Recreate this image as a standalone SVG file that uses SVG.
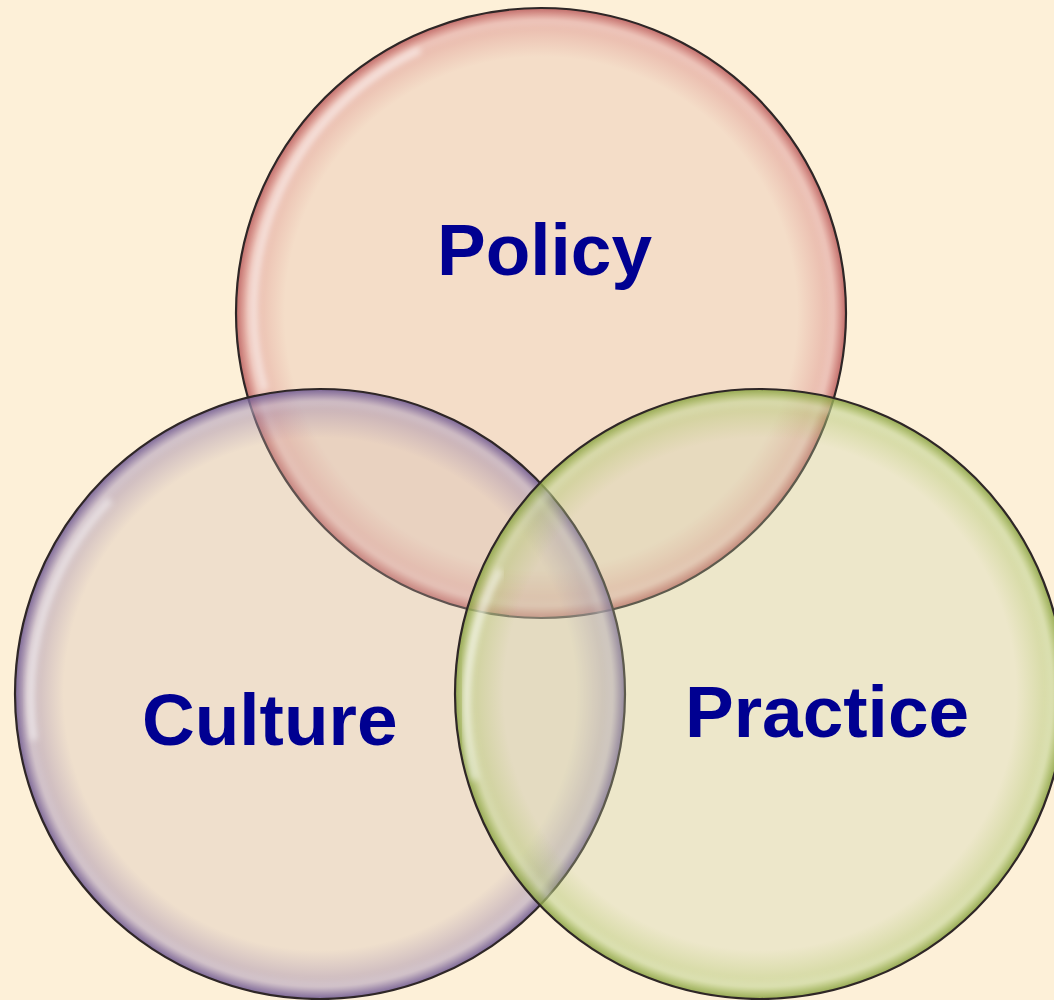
<svg xmlns="http://www.w3.org/2000/svg" width="1054" height="1000" viewBox="0 0 1054 1000">
<defs>
<style>
.lbl{font-family:"Liberation Sans",Arial,sans-serif;font-weight:bold;font-size:73px;fill:#000091}
.outline{fill:none;stroke:#2e2626;stroke-width:2.2}
.hl{fill:none;stroke:#ffffff;stroke-width:7;filter:url(#blur)}
</style>
<filter id="blur" x="-10%" y="-10%" width="120%" height="120%"><feGaussianBlur stdDeviation="3"/></filter>
<radialGradient id="rimP"><stop offset="0" stop-color="#d77b7b" stop-opacity="0"/><stop offset="0.84" stop-color="#d77b7b" stop-opacity="0"/><stop offset="0.96" stop-color="#d77b7b" stop-opacity="0.4"/><stop offset="1" stop-color="#b85a5a" stop-opacity="0.85"/></radialGradient>
<radialGradient id="rimC"><stop offset="0" stop-color="#8a74a8" stop-opacity="0"/><stop offset="0.84" stop-color="#8a74a8" stop-opacity="0"/><stop offset="0.96" stop-color="#8a74a8" stop-opacity="0.4"/><stop offset="1" stop-color="#6a5490" stop-opacity="0.85"/></radialGradient>
<radialGradient id="rimR"><stop offset="0" stop-color="#a9c25c" stop-opacity="0"/><stop offset="0.84" stop-color="#a9c25c" stop-opacity="0"/><stop offset="0.96" stop-color="#a9c25c" stop-opacity="0.4"/><stop offset="1" stop-color="#88a040" stop-opacity="0.85"/></radialGradient>
</defs>
<rect width="1054" height="1000" fill="#fdf0d8"/>
<g id="policy">
<circle cx="541" cy="313" r="305" fill="#e2b4a3" fill-opacity="0.3"/>
<circle cx="541" cy="313" r="305" fill="url(#rimP)"/>
<circle cx="541" cy="313" r="292" class="hl" stroke-opacity="0.22"/>
<path d="M 265 390 A 288 288 0 0 1 420 50" class="hl" stroke-opacity="0.55"/>
<circle cx="541" cy="313" r="305" class="outline"/>
</g>
<g id="culture">
<circle cx="320" cy="694" r="305" fill="#d2bbb0" fill-opacity="0.3"/>
<circle cx="320" cy="694" r="305" fill="url(#rimC)"/>
<circle cx="320" cy="694" r="292" class="hl" stroke-opacity="0.22"/>
<path d="M 34 740 A 288 288 0 0 1 110 500" class="hl" stroke-opacity="0.55"/>
<circle cx="320" cy="694" r="305" class="outline"/>
</g>
<g id="practice">
<circle cx="760" cy="694" r="305" fill="#cbd5a9" fill-opacity="0.3"/>
<circle cx="760" cy="694" r="305" fill="url(#rimR)"/>
<circle cx="760" cy="694" r="292" class="hl" stroke-opacity="0.22"/>
<path d="M 475 780 A 292 292 0 0 1 500 570" class="hl" stroke-opacity="0.55"/>
<circle cx="760" cy="694" r="305" class="outline"/>
</g>
<g id="labels">
<text class="lbl" x="437" y="275">Policy</text>
<text class="lbl" x="142" y="745">Culture</text>
<text class="lbl" x="685" y="737">Practice</text>
</g>
</svg>
